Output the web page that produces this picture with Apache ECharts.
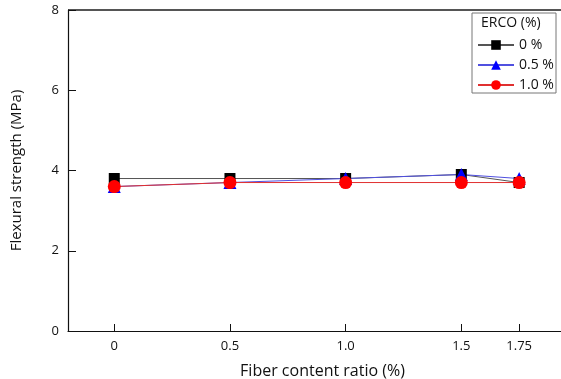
<!DOCTYPE html>
<html>
<head>
<meta charset="utf-8">
<script src="https://cdn.jsdelivr.net/npm/echarts@6/dist/echarts.min.js"></script>
<style>
  html, body { margin: 0; padding: 0; background: #fff; }
  #chart { width: 561px; height: 379px; }
</style>
</head>
<body>
<div id="chart"></div>
<script>
// fiber content ratio (%) on x, flexural strength (MPa) on y
const fiberRatio = [0, 0.5, 1.0, 1.5, 1.75]
const xTickLabels = ['0', '0.5', '1.0', '1.5', '1.75']
const seriesNames = ['0 %', '0.5 %', '1.0 %']
const erco0 = [3.8, 3.8, 3.8, 3.9, 3.7]
const erco05 = [3.6, 3.7, 3.8, 3.9, 3.8]
const erco10 = [3.6, 3.7, 3.7, 3.7, 3.7]

const font = 'Open Sans'
const pairs = (ys) => fiberRatio.map((x, i) => [x, ys[i]])

const chart = echarts.init(document.getElementById('chart'))

chart.setOption({
  backgroundColor: '#fff',
  animation: false,
  textStyle: { fontFamily: font },
  grid: { left: 68, top: 10, width: 509, height: 321, outerBoundsMode: 'none' },
  xAxis: {
    type: 'value',
    min: -0.2,
    max: 2.0,
    name: 'Fiber content ratio (%)',
    nameLocation: 'middle',
    nameGap: 32,
    nameTextStyle: { fontSize: 16, color: '#111', fontFamily: font },
    axisLine: { onZero: false, lineStyle: { color: '#111', width: 1.2 } },
    axisTick: {
      show: true, inside: true, length: 7,
      customValues: fiberRatio,
      lineStyle: { color: '#111' }
    },
    axisLabel: {
      customValues: fiberRatio,
      formatter: (v) => xTickLabels[fiberRatio.indexOf(v)] || '',
      fontSize: 13, color: '#111', margin: 9
    },
    splitLine: { show: false }
  },
  yAxis: {
    type: 'value',
    min: 0,
    max: 8,
    interval: 2,
    name: 'Flexural strength (MPa)',
    nameLocation: 'middle',
    nameGap: 44,
    nameTextStyle: { fontSize: 15, color: '#111', fontFamily: font },
    axisLine: { show: true, onZero: false, lineStyle: { color: '#111', width: 1.2 } },
    axisTick: { show: true, inside: true, length: 8, lineStyle: { color: '#111' } },
    axisLabel: { fontSize: 13, color: '#111', margin: 9 },
    splitLine: { show: false }
  },
  legend: {
    orient: 'vertical',
    left: 472,
    top: 33,
    itemWidth: 36,
    itemHeight: 12,
    itemGap: 6,
    textStyle: { fontSize: 14, color: '#111', fontFamily: font },
    data: seriesNames
  },
  graphic: [
    {
      type: 'line',
      shape: { x1: 68, y1: 10, x2: 561, y2: 10 },
      style: { stroke: '#555', lineWidth: 2 }
    },
    {
      type: 'rect',
      shape: { x: 472, y: 13, width: 84, height: 80 },
      style: { fill: 'none', stroke: '#777', lineWidth: 1 }
    },
    {
      type: 'text',
      left: 481,
      top: 16,
      style: { text: 'ERCO (%)', fontSize: 14, fontFamily: font, fill: '#111' }
    }
  ],
  series: [
    {
      name: seriesNames[0],
      type: 'line',
      data: pairs(erco0),
      symbol: 'rect',
      symbolSize: 11,
      itemStyle: { color: '#000' },
      lineStyle: { color: '#555', width: 1 }
    },
    {
      name: seriesNames[1],
      type: 'line',
      data: pairs(erco05),
      symbol: 'triangle',
      symbolSize: 13,
      itemStyle: { color: '#0000ff' },
      lineStyle: { color: '#5050e0', width: 1 }
    },
    {
      name: seriesNames[2],
      type: 'line',
      data: pairs(erco10),
      symbol: 'circle',
      symbolSize: 13,
      itemStyle: { color: '#ff0000' },
      lineStyle: { color: '#e03030', width: 1 }
    }
  ]
})
</script>
</body>
</html>
